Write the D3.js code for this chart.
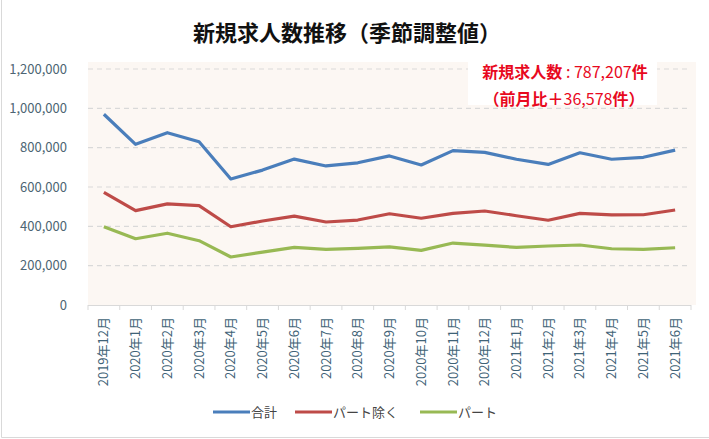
<!DOCTYPE html>
<html>
<head>
<meta charset="utf-8">
<script src="https://cdn.jsdelivr.net/npm/d3@7"></script>
<style>
  body { margin: 0; background: #fff; }
  text { font-family: "Noto Sans CJK JP", "Noto Sans", sans-serif; }
</style>
</head>
<body>
<svg id="chart" width="709" height="439"></svg>
<script>
const months = ["2019年12月", "2020年1月", "2020年2月", "2020年3月", "2020年4月", "2020年5月",
    "2020年6月", "2020年7月", "2020年8月", "2020年9月", "2020年10月", "2020年11月", "2020年12月",
    "2021年1月", "2021年2月", "2021年3月", "2021年4月", "2021年5月", "2021年6月"];
const total = [970000, 817000, 876000, 830000, 641000, 686000, 742000, 707000, 723000, 758000,
    712000, 785000, 776000, 741000, 715000, 774000, 741000, 751000, 787207];
const exPart = [573000, 480000, 514000, 505000, 398000, 427000, 452000, 422000, 432000, 464000,
    441000, 466000, 478000, 454000, 431000, 466000, 458000, 459000, 483000];
const part = [398000, 337000, 365000, 327000, 244000, 269000, 293000, 283000, 288000, 296000,
    278000, 315000, 304000, 293000, 300000, 305000, 286000, 283000, 291000];
const yTicks = [0, 200000, 400000, 600000, 800000, 1000000, 1200000];
const seriesNames = ["合計", "パート除く", "パート"];
const seriesColors = ["#4a7ebb", "#be4b48", "#98b954"];

const svg = d3.select("#chart");

// outer frame (left + bottom visible)
svg.append("line").attr("x1", 1.5).attr("x2", 1.5).attr("y1", 0).attr("y2", 437.5)
    .attr("stroke", "#d9d9d9");
svg.append("line").attr("x1", 1.5).attr("x2", 709).attr("y1", 437.5).attr("y2", 437.5)
    .attr("stroke", "#d9d9d9");

const x = d3.scaleBand().domain(months).range([88, 691]);
const y = d3.scaleLinear().domain([0, 1200000]).range([305, 69]);

// plot background
svg.append("rect")
    .attr("x", 88).attr("y", 62).attr("width", 608).attr("height", 243)
    .attr("fill", "#fcf7f3");

// gridlines
svg.append("g").selectAll("line")
    .data(yTicks.filter(d => d > 0))
    .enter().append("line")
    .attr("x1", 88).attr("x2", 691)
    .attr("y1", d => y(d)).attr("y2", d => y(d))
    .attr("stroke", "#d9d9d9")
    .attr("stroke-width", 1.2)
    .attr("stroke-dasharray", "5,4");

// y axis labels
svg.append("g").selectAll("text")
    .data(yTicks)
    .enter().append("text")
    .attr("x", 67).attr("y", d => y(d))
    .attr("dy", "0.35em")
    .attr("text-anchor", "end")
    .attr("font-size", 13)
    .attr("fill", "#4d6573")
    .text(d => d3.format(",")(d));

// x axis
const xAxis = svg.append("g");
xAxis.append("line").attr("x1", 88).attr("x2", 691).attr("y1", 305.5).attr("y2", 305.5)
    .attr("stroke", "#d9d9d9");
xAxis.selectAll(".tick")
    .data(months.concat([null]))
    .enter().append("line")
    .attr("x1", (d, i) => 88 + i * x.bandwidth())
    .attr("x2", (d, i) => 88 + i * x.bandwidth())
    .attr("y1", 305).attr("y2", 310)
    .attr("stroke", "#d9d9d9");
xAxis.selectAll("text")
    .data(months)
    .enter().append("text")
    .attr("transform", d => `translate(${x(d) + x.bandwidth() / 2},317) rotate(-90)`)
    .attr("text-anchor", "end")
    .attr("dy", "0.35em")
    .attr("font-size", 13)
    .attr("fill", "#3f6377")
    .text(d => d);

// lines
const line = d3.line()
    .x((d, i) => x(months[i]) + x.bandwidth() / 2)
    .y(d => y(d));

[total, exPart, part].forEach((s, k) => {
    svg.append("path")
        .datum(s)
        .attr("d", line)
        .attr("fill", "none")
        .attr("stroke", seriesColors[k])
        .attr("stroke-width", 3.2)
        .attr("stroke-linejoin", "round");
});

// annotation
svg.append("rect")
    .attr("x", 468).attr("y", 55).attr("width", 189).attr("height", 50)
    .attr("fill", "#ffffff");
const note1 = svg.append("text")
    .attr("x", 565).attr("y", 72)
    .attr("dy", "0.35em")
    .attr("text-anchor", "middle")
    .attr("font-size", 16)
    .attr("fill", "#e8091e");
note1.append("tspan").attr("font-weight", "bold").text("新規求人数");
note1.append("tspan").attr("font-weight", "normal").text(" : 787,207");
note1.append("tspan").attr("font-weight", "bold").text("件");
const note2 = svg.append("text")
    .attr("x", 564).attr("y", 99)
    .attr("dy", "0.35em")
    .attr("text-anchor", "middle")
    .attr("font-size", 16)
    .attr("fill", "#e8091e");
note2.append("tspan").attr("font-weight", "bold").text("（前月比＋");
note2.append("tspan").attr("font-weight", "normal").text("36,578");
note2.append("tspan").attr("font-weight", "bold").text("件）");

// title
svg.append("text")
    .attr("x", 347).attr("y", 33)
    .attr("dy", "0.35em")
    .attr("text-anchor", "middle")
    .attr("font-size", 22)
    .attr("font-weight", "bold")
    .attr("fill", "#111")
    .text("新規求人数推移（季節調整値）");

// legend
const legendX = [213, 295, 420];
const legend = svg.append("g").selectAll("g")
    .data(seriesNames)
    .enter().append("g")
    .attr("transform", (d, i) => `translate(${legendX[i]},412)`);
legend.append("line")
    .attr("x1", 0).attr("x2", 37)
    .attr("stroke", (d, i) => seriesColors[i])
    .attr("stroke-width", 3.2);
legend.append("text")
    .attr("x", 38).attr("dy", "0.35em")
    .attr("font-size", 13)
    .attr("fill", "#444")
    .text(d => d);
</script>
</body>
</html>
